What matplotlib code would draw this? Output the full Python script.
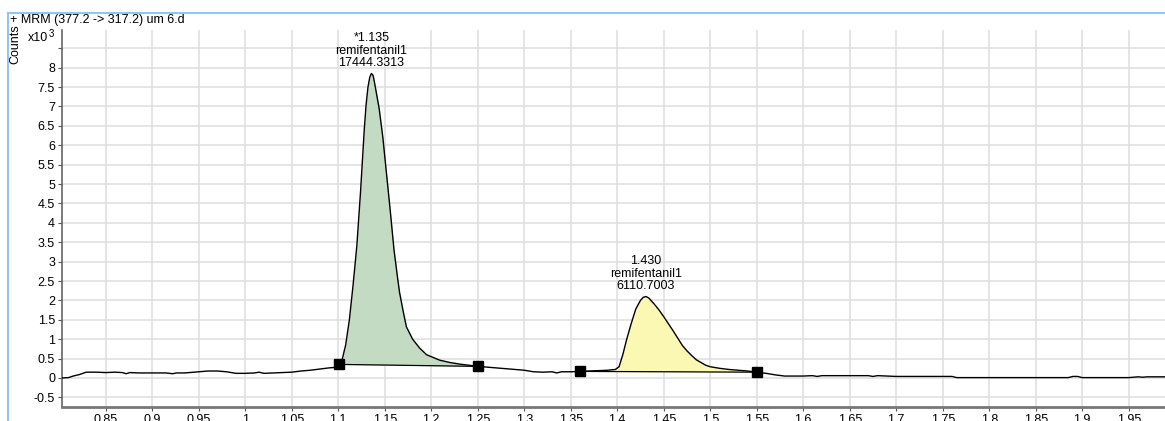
import numpy as np
import matplotlib
matplotlib.use("Agg")
import matplotlib.pyplot as plt
from matplotlib.lines import Line2D

plt.rcParams["font.family"] = ["Liberation Sans", "DejaVu Sans"]

# chromatogram trace (acquisition time in min, counts x10^3)
rt = [0.803, 0.81, 0.815, 0.822, 0.829, 0.84, 0.85, 0.86, 0.868, 0.872, 0.876, 0.885,
      0.9, 0.915, 0.922, 0.926, 0.935, 0.95, 0.96, 0.97, 0.98, 0.99, 1.0, 1.01, 1.015,
      1.02, 1.03, 1.05, 1.06, 1.07, 1.08, 1.09, 1.1, 1.104, 1.108, 1.112, 1.116, 1.12,
      1.124, 1.128, 1.13, 1.132, 1.134, 1.1357, 1.1375, 1.139, 1.141, 1.144, 1.148, 1.152,
      1.156, 1.16, 1.164, 1.166, 1.17, 1.1733, 1.18, 1.1876, 1.195, 1.2, 1.209, 1.22, 1.23,
      1.24, 1.25, 1.26, 1.27, 1.28, 1.29, 1.3, 1.31, 1.32, 1.33, 1.335, 1.34, 1.35, 1.36,
      1.37, 1.38, 1.39, 1.398, 1.402, 1.406, 1.41, 1.415, 1.42, 1.425, 1.428, 1.431, 1.434,
      1.437, 1.44, 1.445, 1.45, 1.455, 1.46, 1.465, 1.47, 1.475, 1.48, 1.485, 1.49, 1.495,
      1.5, 1.51, 1.52, 1.53, 1.54, 1.55, 1.56, 1.57, 1.58, 1.6, 1.61, 1.615, 1.62, 1.65,
      1.67, 1.675, 1.68, 1.7, 1.75, 1.76, 1.765, 1.8, 1.85, 1.885, 1.89, 1.895, 1.9, 1.95,
      1.96, 1.965, 1.97, 1.989]
counts = [0.0, 0.01, 0.05, 0.09, 0.15, 0.15, 0.14, 0.15, 0.14, 0.11, 0.14, 0.13,
          0.13, 0.13, 0.11, 0.13, 0.13, 0.16, 0.18, 0.18, 0.16, 0.12, 0.12, 0.13, 0.15,
          0.12, 0.13, 0.15, 0.18, 0.2, 0.23, 0.26, 0.28, 0.45, 0.85, 1.5, 2.4, 3.4,
          4.8, 6.4, 7.05, 7.5, 7.76, 7.85, 7.8, 7.62, 7.35, 6.95, 6.2, 5.25,
          4.3, 3.3, 2.55, 2.2, 1.7, 1.32, 1.0, 0.77, 0.6, 0.55, 0.46, 0.4, 0.36,
          0.33, 0.3, 0.28, 0.26, 0.24, 0.22, 0.2, 0.16, 0.15, 0.16, 0.13, 0.16, 0.16, 0.17,
          0.18, 0.19, 0.2, 0.22, 0.29, 0.6, 0.98, 1.4, 1.78, 2.0, 2.08, 2.1, 2.06,
          1.98, 1.9, 1.75, 1.58, 1.4, 1.22, 1.03, 0.84, 0.7, 0.58, 0.47, 0.4, 0.33,
          0.29, 0.25, 0.22, 0.2, 0.18, 0.15, 0.12, 0.08, 0.05, 0.05, 0.06, 0.04, 0.06, 0.06,
          0.06, 0.04, 0.06, 0.04, 0.04, 0.04, 0.01, 0.01, 0.01, 0.01, 0.04, 0.04, 0.01, 0.01,
          0.03, 0.02, 0.03, 0.03]

# integrated peaks: baseline start/end points, label text, fill colour
peak_start = [(1.101, 0.35), (1.36, 0.17)]
peak_end = [(1.25, 0.30), (1.55, 0.15)]
peak_rt = ["*1.135", "1.430"]
peak_name = ["remifentanil1", "remifentanil1"]
peak_area = ["17444.3313", "6110.7003"]
peak_color = ["#c2dbc2", "#fbf8b4"]

x_ticks = np.round(np.arange(0.85, 1.951, 0.05), 2)
y_ticks = np.round(np.arange(-0.5, 8.51, 0.5), 1)

rt = np.array(rt)
counts = np.array(counts)

fig = plt.figure(figsize=(11.65, 4.21), dpi=100)
ax = fig.add_axes([62 / 1165, 14.3 / 421, 1103 / 1165, 376.7 / 421])

for (x0, y0), (x1, y1), label_rt, name, area, col in zip(
        peak_start, peak_end, peak_rt, peak_name, peak_area, peak_color):
    m = (rt >= x0) & (rt <= x1)
    xs = np.concatenate([[x0], rt[m], [x1]])
    ys = np.interp(xs, rt, counts)
    base = np.interp(xs, [x0, x1], [y0, y1])
    ax.fill_between(xs, base, np.maximum(ys, base), color=col, lw=0, zorder=2)
    ax.plot([x0, x1], [y0, y1], color="black", lw=0.9, zorder=3)
    ax.plot([x0, x1], [y0, y1], ls="none", marker="s", ms=7, color="black", zorder=5)
    i = np.argmax(counts * m)
    ax.annotate(label_rt + "\n" + name + "\n" + area, xy=(rt[i], counts[i]),
                xytext=(0, 3), textcoords="offset points", ha="center", va="bottom",
                fontsize=9, linespacing=1.05, zorder=6)

ax.plot(rt, counts, color="black", lw=1.0, zorder=4)

ax.set_xlim(0.803, 1.989)
ax.set_ylim(-0.74, 8.97)
ax.set_xticks(x_ticks)
ax.set_xticklabels(["%g" % v for v in x_ticks])
ax.set_yticks(y_ticks)
ax.set_yticklabels(["%g" % v if v < 8.5 else "" for v in y_ticks])
ax.tick_params(labelsize=9, length=3, color="#555555", pad=2)
ax.grid(True, color="#e0e0e0", lw=1.2, zorder=0)
ax.set_axisbelow(True)
for s in ["top", "right"]:
    ax.spines[s].set_visible(False)
ax.spines["left"].set_color("#666666")
ax.spines["left"].set_linewidth(1.2)
ax.spines["bottom"].set_color("#777777")
ax.spines["bottom"].set_linewidth(2)

# header, axis captions and window border
fig.text(10 / 1165, 1 - 20 / 421, "+ MRM (377.2 -> 317.2) um 6.d", fontsize=9, va="center")
fig.text(15 / 1165, 1 - 44 / 421, "Counts", fontsize=9, rotation=90, ha="center", va="center")
fig.text(28 / 1165, 1 - 38 / 421, "x10", fontsize=9, va="center")
fig.text(49 / 1165, 1 - 34 / 421, "3", fontsize=7, va="center")
fig.add_artist(Line2D([8 / 1165, 8 / 1165], [0, 1 - 13 / 421], color="#8ec6f5", lw=1.5))
fig.add_artist(Line2D([8 / 1165, 1], [1 - 13 / 421, 1 - 13 / 421], color="#8ec6f5", lw=1.5))

fig.savefig("out.png", dpi=100)
